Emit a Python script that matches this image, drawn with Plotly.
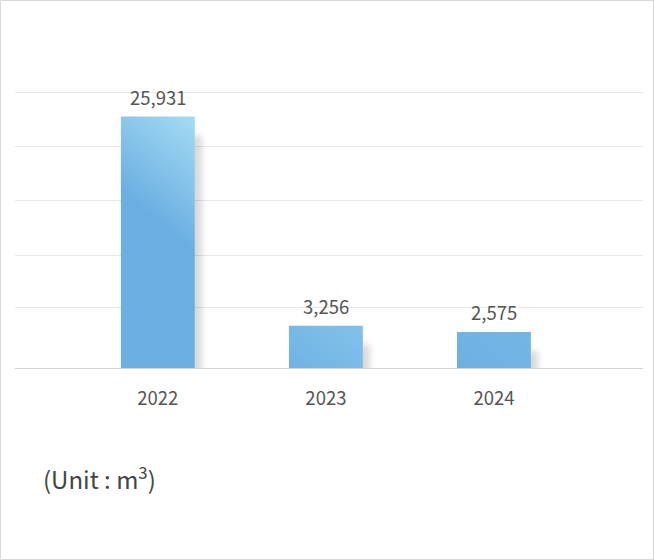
import plotly.graph_objects as go

# ---- data ----
YEARS = ["2022", "2023", "2024"]
VOLUMES = [25931, 3256, 2575]
UNIT_LABEL = "(Unit : m<sup>3</sup>)"

# axis floor used by the original chart (bars start at the axis bottom)
Y_FLOOR = -1330
Y_TOP = 30000
GRID_VALUES = [5200, 10900, 16850, 22650, 28550]

W, H = 654, 560
ML, MR, MT, MB = 15, 11, 79, 192
PW, PH = W - ML - MR, H - MT - MB


def px_x(px):
    return (px - ML) / PW


def px_y(py):
    return (H - MB - py) / PH


FONT = "Noto Sans CJK KR"
TXT = "#555555"

pos = list(range(len(YEARS)))

fig = go.Figure()
fig.add_trace(go.Bar(
    x=pos,
    y=[v - Y_FLOOR for v in VOLUMES],
    base=Y_FLOOR,
    width=0.44,
    marker=dict(color="#6aafe2", line=dict(width=0)),
    hoverinfo="skip",
))

for p, v in zip(pos, VOLUMES):
    fig.add_annotation(x=p, y=v, xref="x", yref="y", text=f"{v:,}",
                       showarrow=False, yanchor="middle", yshift=20,
                       font=dict(family=FONT, size=18.5, color=TXT))

fig.add_annotation(xref="paper", yref="paper", x=px_x(41), y=px_y(478),
                   xanchor="left", yanchor="middle", text=UNIT_LABEL,
                   showarrow=False, font=dict(family=FONT, size=24, color="#444444"))

# outer frame
fig.add_shape(type="rect", xref="paper", yref="paper",
              x0=px_x(0.5), x1=px_x(W - 0.5), y0=px_y(H - 0.5), y1=px_y(0.5),
              line=dict(color="#d9d9d9", width=1), layer="below")

fig.update_layout(
    width=W, height=H,
    margin=dict(l=ML, r=MR, t=MT, b=MB, pad=0),
    paper_bgcolor="white", plot_bgcolor="white",
    showlegend=False,
    xaxis=dict(range=[-0.85, 2.887], showgrid=False, zeroline=False,
               tickvals=pos, ticktext=YEARS,
               showline=True, linecolor="#d3d3d3", linewidth=1,
               ticks="outside", ticklen=14, tickcolor="rgba(0,0,0,0)",
               tickfont=dict(family=FONT, size=18.5, color=TXT), fixedrange=True),
    yaxis=dict(range=[Y_FLOOR, Y_TOP], tickvals=GRID_VALUES,
               showticklabels=False, showgrid=True, gridcolor="#e8e8e8",
               gridwidth=1, zeroline=False, showline=False, fixedrange=True),
)

post = r"""
document.body.style.margin = '0';
(function(){
  var gd = document.getElementById('{plot_id}');
  var ns = 'http://www.w3.org/2000/svg';
  function mix(a, b, t){
    var r = [];
    for(var k=0;k<3;k++){ r.push(Math.round(a[k] + (b[k]-a[k])*t)); }
    return 'rgb(' + r.join(',') + ')';
  }
  function decorate(){
    var svg = gd.querySelector('svg.main-svg');
    if(!svg) return;
    var defs = svg.querySelector('defs');
    if(!document.getElementById('barshadow')){
      var f = document.createElementNS(ns, 'filter');
      f.setAttribute('id', 'barshadow');
      f.setAttribute('x', '-30%'); f.setAttribute('y', '-30%');
      f.setAttribute('width', '160%'); f.setAttribute('height', '160%');
      f.innerHTML = '<feGaussianBlur in="SourceAlpha" stdDeviation="3"/>' +
        '<feOffset dx="7" dy="19" result="ob"/>' +
        '<feFlood flood-color="#000" flood-opacity="0.15"/>' +
        '<feComposite in2="ob" operator="in" result="sh"/>' +
        '<feMerge><feMergeNode in="sh"/><feMergeNode in="SourceGraphic"/></feMerge>';
      defs.appendChild(f);
    }
    var base = [106, 175, 226], light = [165, 219, 243];
    var paths = gd.querySelectorAll('g.trace.bars g.point path');
    paths.forEach(function(p, i){
      var b = p.getBBox();
      var id = 'bargrad' + i;
      var g = document.getElementById(id);
      if(!g){
        g = document.createElementNS(ns, 'linearGradient');
        g.setAttribute('id', id);
        defs.appendChild(g);
      }
      var t = Math.max(0, Math.min(1, (b.height - 32) / 25));
      g.setAttribute('gradientUnits', 'userSpaceOnUse');
      var x1 = b.x + b.width, y1 = b.y;
      g.setAttribute('x1', x1); g.setAttribute('y1', y1);
      g.setAttribute('x2', x1 - 67); g.setAttribute('y2', y1 + 80);
      g.innerHTML = '<stop offset="0" stop-color="' + mix(base, light, t) + '"/>' +
                    '<stop offset="1" stop-color="rgb(106,175,226)"/>';
      p.style.fill = 'url(#' + id + ')';
      p.setAttribute('filter', 'url(#barshadow)');
    });
  }
  decorate();
  setTimeout(decorate, 0);
  gd.on('plotly_afterplot', decorate);
})();
"""

fig.write_html("out.html", post_script=post, config={"displayModeBar": False})
